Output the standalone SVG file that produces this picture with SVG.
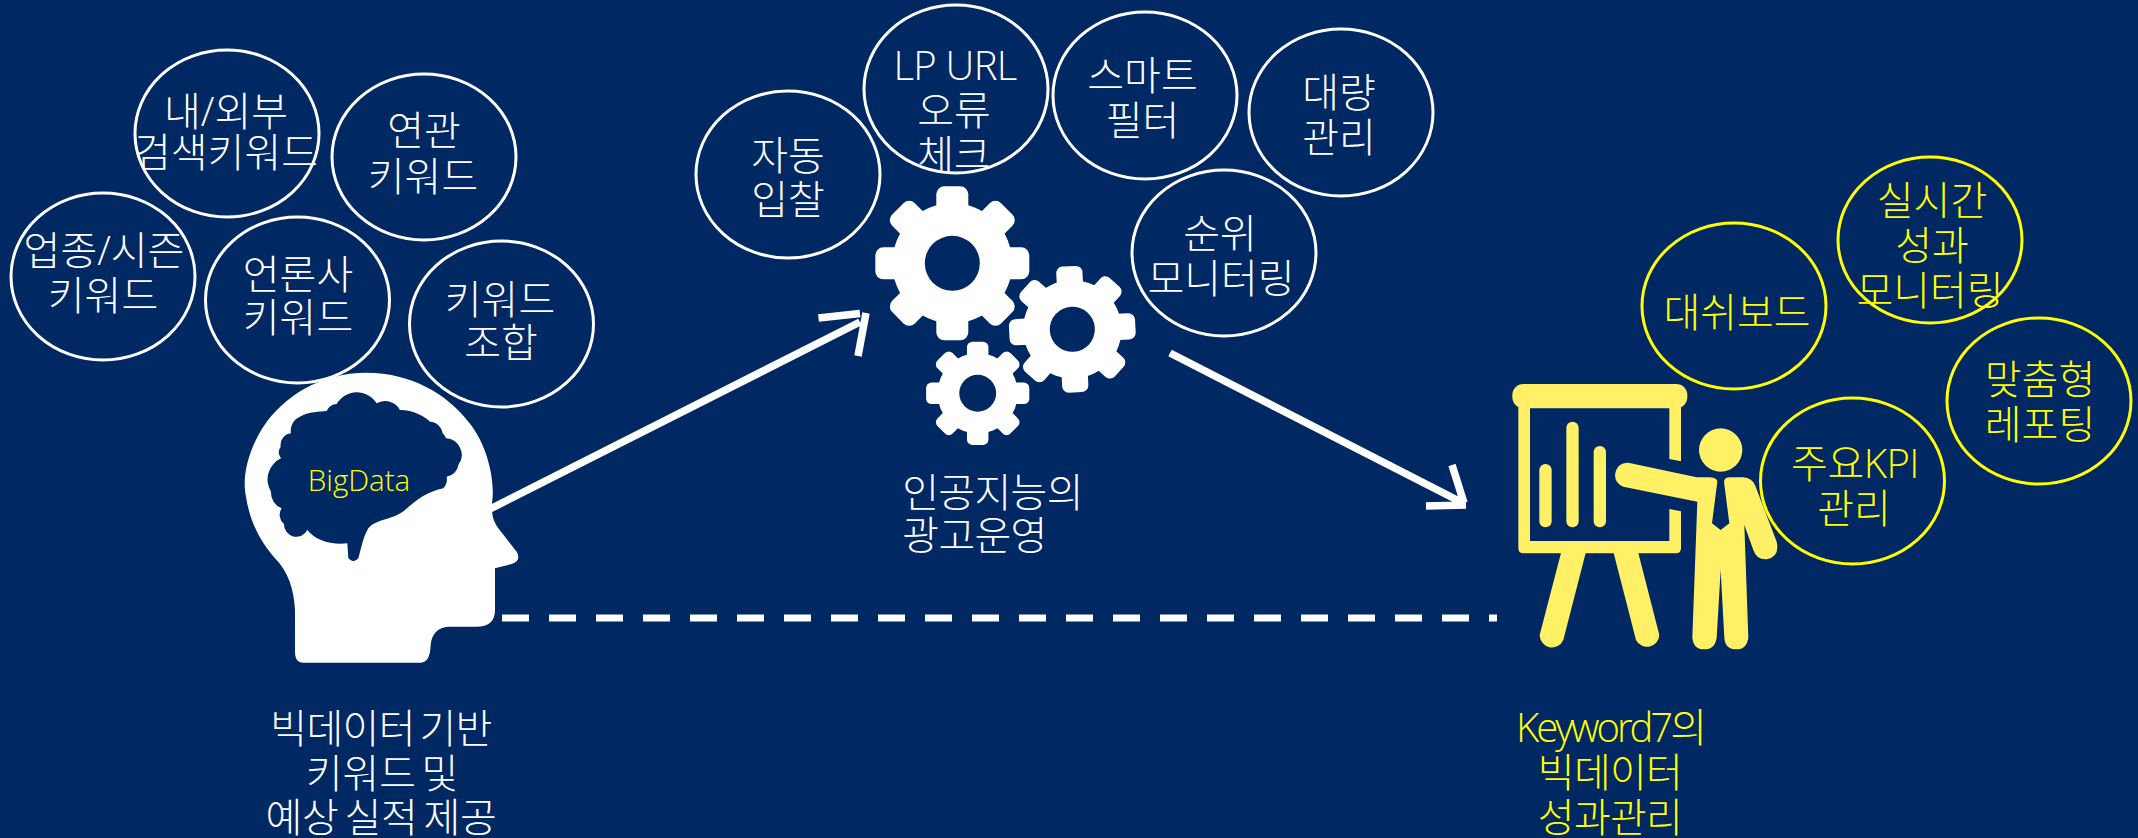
<svg xmlns="http://www.w3.org/2000/svg" width="2138" height="838" viewBox="0 0 2138 838">
<style>
text{font-family:"Open Sans","Noto Sans CJK KR",sans-serif;font-size:40px;font-weight:300;text-anchor:middle;fill:#fff}
text.y{fill:#ffff00}
.n{letter-spacing:-.7px}
.c{fill:none;stroke:#fff;stroke-width:3}
.cy{fill:none;stroke:#ffff00;stroke-width:3}
.ln{fill:none;stroke:#fff;stroke-width:7.5}
</style>
<defs>
<g id="gear">
<g fill="#fff">
<circle r="60"/>
<g id="t"><rect x="-16" y="-77" width="32" height="30" rx="8"/><rect x="-16" y="47" width="32" height="30" rx="8"/></g>
<use href="#t" transform="rotate(45)"/><use href="#t" transform="rotate(90)"/><use href="#t" transform="rotate(135)"/>
</g>
<circle r="27.5" fill="#002863"/>
</g>
</defs>
<rect width="2138" height="838" fill="#002863"/>
<g id="connectors">
<path class="ln" d="M490 509L860 322M818.500 318L860 313.500M866 313L858 356"/>
<path class="ln" d="M1170 353L1463 503M1452 465L1464 503M1426 506L1466 505"/>
<path d="M502 618H1497" fill="none" stroke="#fff" stroke-width="7" stroke-dasharray="27 20"/>
</g>
<g id="head" transform="translate(220 350) scale(.33333)">
<path fill="#fff" d="M225 905C225 925 232 938 250 938H600C620 938 630 925 632 885C635 850 655 830 690 830H770C805 830 825 815 825 780V655L875 642C895 636 900 622 890 605L835 535C818 510 812 490 818 440C822 380 800 280 745 215C680 130 570 68 440 68C300 68 190 140 130 230C85 300 65 380 78 440C90 520 125 580 165 625C205 665 222 720 225 780Z"/>
<path fill="#002863" d="M382 580C330 585 285 570 262 540A37 37 0 0 1 192 522A35 35 0 0 1 185 475A50 50 0 0 1 153 425A70 70 0 0 1 183 325A30 30 0 0 1 182 290A35 35 0 0 1 213 250A45 45 0 0 1 240 200C265 185 300 185 320 183A35 35 0 0 1 350 162A70 70 0 0 1 470 160A50 50 0 0 1 540 180C580 180 615 200 630 215A40 40 0 0 1 668 250A30 30 0 0 1 678 265A50 50 0 0 1 715 345A40 40 0 0 1 680 380A40 40 0 0 1 670 415C620 425 590 450 555 480C520 510 470 505 445 535C430 560 425 590 415 625Q400 642 385 625Z"/>
</g>
<text id="bigdata" x="359" y="491" style="font-size:29.5px;fill:#ffff00">BigData</text>
<g id="gears">
<use href="#gear" transform="translate(952.3 263.3)"/>
<use href="#gear" transform="translate(1072.3 329.3) rotate(-3) scale(.82)"/>
<use href="#gear" transform="translate(977.7 393.3) scale(.67)"/>
</g>
<g id="presenter" transform="translate(1480 360) scale(.33333)" fill="#fff066" stroke="none">
<rect x="97" y="72" width="525" height="73" rx="33"/>
<path d="M115 130H150V543H568V447L603 454V565Q603 580 588 580H130Q115 580 115 565ZM568 130H603V304L568 297Z"/>
<rect x="178" y="312" width="37" height="190" rx="18"/>
<rect x="259" y="185" width="37" height="317" rx="18"/>
<rect x="341" y="258" width="37" height="244" rx="18"/>
<path d="M244 575H318L250 840A37 37 0 0 1 179 825ZM400 575H474L538 825A37 37 0 0 1 468 840Z"/>
<circle cx="722" cy="270" r="65"/>
<path d="M445 308L650 352H690Q712 354 712 365L696 490L722 510L748 490L732 365Q733 352 750 352H790Q815 354 825 375L890 545Q900 590 860 598Q830 600 820 570L793 495L805 833Q800 868 770 868Q735 868 733 833L722 630L710 833Q705 868 673 868Q640 868 637 833L652 425L430 380Q405 370 405 345Q410 308 445 308Z"/>
</g>
<g id="n1"><ellipse class="c" cx="227" cy="133.500" rx="92" ry="83.500"/><text x="226" y="126">내/외부</text><text x="226" y="167">검색키워드</text></g>
<g id="n2"><ellipse class="c" cx="424" cy="157" rx="92" ry="83"/><text x="424" y="145">연관</text><text x="423" y="191">키워드</text></g>
<g id="n3"><ellipse class="c" cx="103" cy="276.500" rx="92" ry="83.500"/><text x="104" y="265">업종/시즌</text><text x="103" y="310">키워드</text></g>
<g id="n4"><ellipse class="c" cx="297.500" cy="300" rx="92" ry="83"/><text x="298" y="289">언론사</text><text x="298" y="332">키워드</text></g>
<g id="n5"><ellipse class="c" cx="501.500" cy="324" rx="92" ry="83"/><text x="500" y="314">키워드</text><text x="501" y="357">조합</text></g>
<g id="n6"><ellipse class="c" cx="788" cy="174.500" rx="92" ry="83.500"/><text x="788" y="170">자동</text><text x="788" y="214">입찰</text></g>
<g id="n7"><ellipse class="c" cx="956" cy="89" rx="92" ry="84"/><text x="955" y="80" letter-spacing="-.7">LP URL</text><text x="954" y="125">오류</text><text x="954" y="169">체크</text></g>
<g id="n8"><ellipse class="c" cx="1145" cy="95.500" rx="92" ry="83.500"/><text x="1142.500" y="90">스마트</text><text x="1142.500" y="135">필터</text></g>
<g id="n9"><ellipse class="c" cx="1341" cy="112.500" rx="92" ry="83.500"/><text x="1339" y="107">대량</text><text x="1339" y="152">관리</text></g>
<g id="n10"><ellipse class="c" cx="1224" cy="253" rx="92" ry="83"/><text x="1220" y="248">순위</text><text x="1221" y="293">모니터링</text></g>
<g id="n11"><ellipse class="cy" cx="1734" cy="306" rx="92" ry="83"/><text class="y" x="1737" y="327">대쉬보드</text></g>
<g id="n12"><ellipse class="cy" cx="1930" cy="240" rx="92" ry="83"/><text class="y" x="1932" y="215">실시간</text><text class="y" x="1932" y="260">성과</text><text class="y" x="1930" y="305">모니터링</text></g>
<g id="n13"><ellipse class="cy" cx="2039" cy="401" rx="92" ry="83"/><text class="y" x="2040" y="394">맞춤형</text><text class="y" x="2040" y="439">레포팅</text></g>
<g id="n14"><ellipse class="cy" cx="1852.500" cy="481" rx="92" ry="83"/><text class="y" x="1855" y="478" letter-spacing="-.5">주요KPI</text><text class="y" x="1854" y="523">관리</text></g>
<g id="l1"><text class="n" x="381" y="743" word-spacing="-5">빅데이터 기반</text><text x="382" y="788" word-spacing="-5">키워드 및</text><text x="381" y="832" word-spacing="-4" letter-spacing="-.3">예상 실적 제공</text></g>
<g id="l2"><text class="n" x="992.500" y="507">인공지능의</text><text class="n" x="974.500" y="550">광고운영</text></g>
<g id="l3"><text class="y" x="1610" y="742" letter-spacing="-3">Keyword7의</text><text class="y n" x="1610" y="787">빅데이터</text><text class="y n" x="1610" y="832">성과관리</text></g>
</svg>
